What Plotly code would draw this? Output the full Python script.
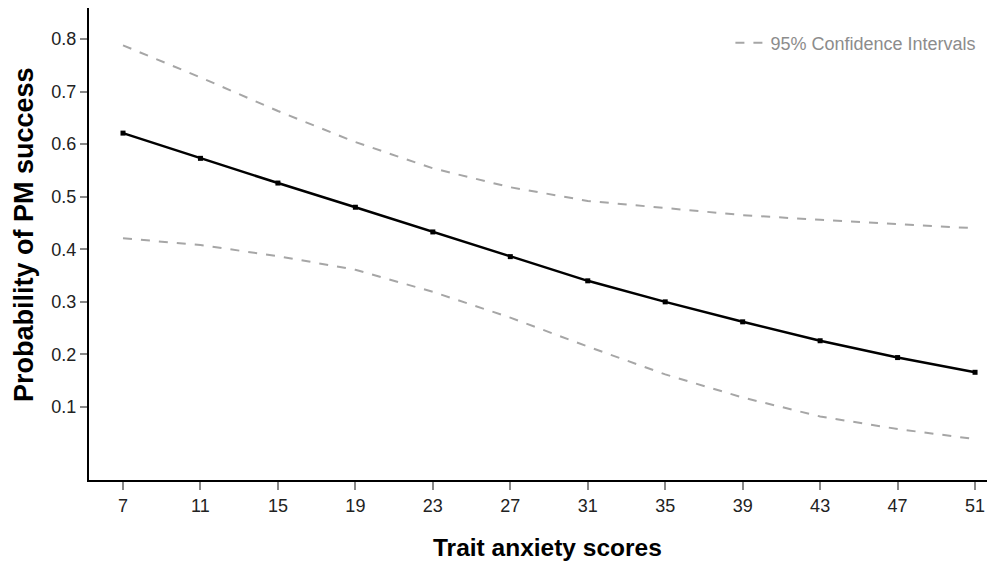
import plotly.graph_objects as go

anxiety = [7, 11, 15, 19, 23, 27, 31, 35, 39, 43, 47, 51]
prob = [0.621, 0.573, 0.526, 0.480, 0.433, 0.386, 0.340, 0.300, 0.262, 0.226, 0.194, 0.166]
ci_upper = [0.788, 0.727, 0.663, 0.604, 0.554, 0.518, 0.492, 0.478, 0.465, 0.456, 0.448, 0.440]
ci_lower = [0.421, 0.408, 0.387, 0.361, 0.319, 0.270, 0.215, 0.162, 0.118, 0.082, 0.058, 0.039]
y_ticks = [0.1, 0.2, 0.3, 0.4, 0.5, 0.6, 0.7, 0.8]

FONT = "Liberation Sans, Arial, sans-serif"
CI_COLOR = "#a6a6a6"

fig = go.Figure()
fig.add_trace(go.Scatter(
    x=anxiety, y=ci_upper, mode="lines", name="95% Confidence Intervals",
    line=dict(color=CI_COLOR, width=2, dash="dash"), showlegend=True))
fig.add_trace(go.Scatter(
    x=anxiety, y=ci_lower, mode="lines", name="lower",
    line=dict(color=CI_COLOR, width=2, dash="dash"), showlegend=False))
fig.add_trace(go.Scatter(
    x=anxiety, y=prob, mode="lines+markers", name="Probability",
    line=dict(color="black", width=2.5),
    marker=dict(symbol="square", size=5, color="black"), showlegend=False))

fig.update_layout(
    width=987, height=553,
    margin=dict(l=81, r=0, t=0, b=81),
    plot_bgcolor="white", paper_bgcolor="white",
    font=dict(family=FONT, color="#222222"),
    legend=dict(x=0.985, y=0.965, xanchor="right", yanchor="top",
                bgcolor="rgba(0,0,0,0)",
                font=dict(size=18, color="#8c8c8c", family=FONT)),
    xaxis=dict(
        range=[5.244, 52.03], tickvals=anxiety, ticks="outside", ticklen=8,
        tickcolor="#888888", tickwidth=1.5, automargin=False,
        showline=True, linecolor="black", linewidth=2, showgrid=False,
        zeroline=False, tickfont=dict(size=18, color="#222222")),
    yaxis=dict(
        range=[-0.0389, 0.859], tickvals=y_ticks, ticks="outside", ticklen=7,
        tickcolor="#888888", tickwidth=1.5, automargin=False,
        showline=True, linecolor="black", linewidth=2, showgrid=False,
        zeroline=False, tickfont=dict(size=18, color="#222222")),
    annotations=[
        dict(text="<b>Trait anxiety scores</b>", xref="paper", yref="paper",
             x=0.5066, y=-0.142, xanchor="center", yanchor="middle",
             showarrow=False, font=dict(size=24.5, color="black", family=FONT)),
        dict(text="<b>Probability of PM success</b>", xref="paper", yref="paper",
             x=-0.0717, y=0.519, xanchor="center", yanchor="middle",
             textangle=-90, showarrow=False,
             font=dict(size=27, color="black", family=FONT)),
    ],
)

fig.write_html("out.html")
